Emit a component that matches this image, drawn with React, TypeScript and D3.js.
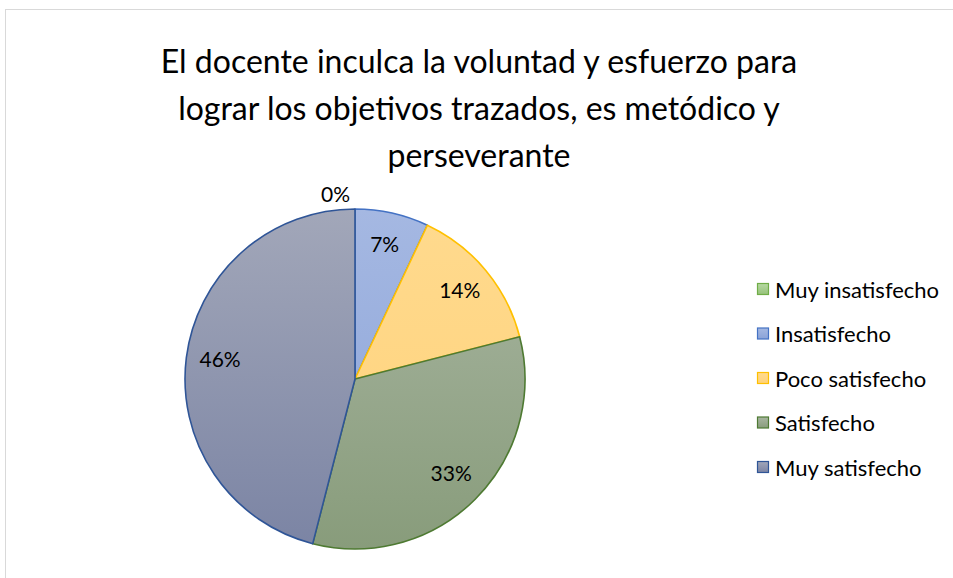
import React from "react";
import * as d3 from "d3";

const categories = ["Muy insatisfecho", "Insatisfecho", "Poco satisfecho", "Satisfecho", "Muy satisfecho"];
const values = [0, 7, 14, 33, 46];
const valueLabels = ["0%", "7%", "14%", "33%", "46%"];
const titleLines = [
  "El docente inculca la voluntad y esfuerzo para",
  "lograr los objetivos trazados, es metódico y",
  "perseverante",
];
const topColors = ["#B7D9A3", "#A5B8E2", "#FFDA8E", "#A9B6A2", "#A2A7B9"];
const bottomColors = ["#96C27A", "#8AA3D8", "#FFD27A", "#889C7B", "#7B84A4"];
const strokeColors = ["#70AD47", "#4472C4", "#FFC000", "#4E7A32", "#2F5597"];

const W = 953;
const H = 578;
const cx = 355;
const cy = 379;
const R = 170;

export default function App() {
  const pie = d3.pie<number>().sort(null).value((d) => d);
  const arcs = pie(values);
  const arcGen = d3.arc<d3.PieArcDatum<number>>().innerRadius(0).outerRadius(R);
  const labelArc = d3.arc<d3.PieArcDatum<number>>().innerRadius(R * 0.8).outerRadius(R * 0.8);
  const font = "Lato, 'Open Sans', sans-serif";
  const legendY = d3.scalePoint<string>().domain(categories).range([289, 467]);

  return (
    <svg width={W} height={H} style={{ position: "absolute", left: 0, top: 0, background: "#fff" }}>
      <defs>
        {categories.map((c, i) => (
          <linearGradient key={c} id={`g${i}`} gradientUnits="userSpaceOnUse" x1={0} x2={0} y1={-R} y2={R}>
            <stop offset="0" stopColor={topColors[i]} />
            <stop offset="1" stopColor={bottomColors[i]} />
          </linearGradient>
        ))}
        {categories.map((c, i) => (
          <linearGradient key={c} id={`lg${i}`} x1={0} x2={0} y1={0} y2={1}>
            <stop offset="0" stopColor={topColors[i]} />
            <stop offset="1" stopColor={bottomColors[i]} />
          </linearGradient>
        ))}
      </defs>
      <rect x={5.5} y={9.5} width={960} height={580} fill="#fff" stroke="#D9D9D9" strokeWidth={1} />
      <g fontFamily={font} fill="#000">
        {titleLines.map((t, i) => (
          <text key={i} x={479} y={73 + i * 47} textAnchor="middle" fontSize={32}>
            {t}
          </text>
        ))}
      </g>
      <g transform={`translate(${cx},${cy})`}>
        {arcs.map((a, i) =>
          a.value > 0 ? (
            <path
              key={i}
              d={arcGen(a) || ""}
              fill={`url(#g${i})`}
              stroke={strokeColors[i]}
              strokeWidth={1.6}
              strokeLinejoin="round"
            />
          ) : null
        )}
        {arcs.map((a, i) => {
          if (a.value === 0) {
            return (
              <text key={i} x={-5} y={-R - 7} textAnchor="end" fontFamily={font} fontSize={21}>
                {valueLabels[i]}
              </text>
            );
          }
          const [x, y] = labelArc.centroid(a);
          return (
            <text key={i} x={x} y={y - 3} textAnchor="middle" dominantBaseline="central" fontFamily={font} fontSize={21}>
              {valueLabels[i]}
            </text>
          );
        })}
      </g>
      <g fontFamily={font} fontSize={22}>
        {categories.map((c, i) => {
          const y = legendY(c) as number;
          return (
            <g key={c}>
              <rect x={757.5} y={y - 5.5} width={11} height={11} fill={`url(#lg${i})`} stroke={strokeColors[i]} strokeWidth={1.2} />
              <text x={775} y={y} dominantBaseline="central">
                {c}
              </text>
            </g>
          );
        })}
      </g>
    </svg>
  );
}
